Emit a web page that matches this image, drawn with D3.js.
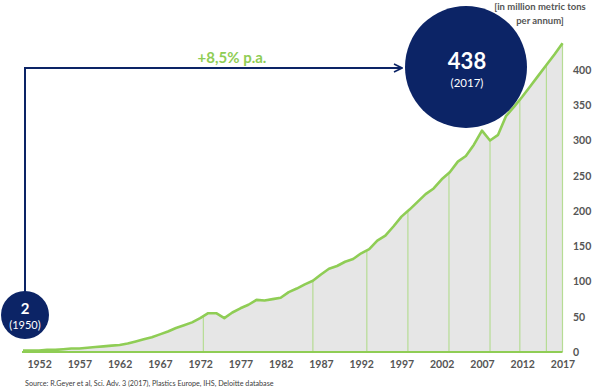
<!DOCTYPE html>
<html>
<head>
<meta charset="utf-8">
<script src="https://cdn.jsdelivr.net/npm/d3@7"></script>
<style>
  html, body { margin: 0; padding: 0; background: #fff; }
  svg { display: block; font-family: Lato, "Open Sans", sans-serif; }
</style>
</head>
<body>
<svg id="chart" width="601" height="391"></svg>
<script>
// ---- data ----
const years = d3.range(1950, 2018);
const production = [
  2, 2, 2, 3, 3, 4, 5, 5, 6, 7,            // 1950-1959
  8, 9, 10, 12, 15, 18, 21, 25, 29, 34,    // 1960-1969
  38, 42, 48, 55, 55, 48, 56, 62, 67, 74,  // 1970-1979
  73, 75, 77, 85, 90, 96, 101, 110, 118, 122, // 1980-1989
  128, 132, 140, 146, 158, 165, 178, 192, 202, 213, // 1990-1999
  224, 232, 245, 255, 270, 278, 294, 314, 300, 308, // 2000-2009
  335, 348, 362, 377, 392, 407, 422, 438   // 2010-2017
];
const xTickLabels = [1952, 1957, 1962, 1967, 1972, 1977, 1982, 1987, 1992, 1997, 2002, 2007, 2012, 2017];
const yTickLabels = [0, 50, 100, 150, 200, 250, 300, 350, 400];
const dividerYears = [1972.4, 1986, 1992.7, 1997.8, 2002.9, 2008, 2011.7, 2015, 2017];
const unitLines = ["[in million metric tons", "per annum]"];
const growthLabel = "+8,5% p.a.";
const startLabel = { value: "2", year: "(1950)" };
const endLabel = { value: "438", year: "(2017)" };
const sourceText = "Source: R.Geyer et al, Sci. Adv. 3 (2017), Plastics Europe, IHS, Deloitte database";

const data = years.map((yr, i) => ({ year: yr, value: production[i] }));

// ---- styles ----
const navy = "#0c2466";
const green = "#8fcd55";
const lightGreen = "#b6dc94";
const fillGrey = "#e6e6e6";
const textGrey = "#555555";

const svg = d3.select("#chart");
const x = d3.scaleLinear().domain([1950, 2017]).range([23, 562.5]);
const y = d3.scaleLinear().domain([0, 400]).range([352, 70]);

const interp = yr => {
  const i = Math.min(Math.floor(yr - 1950), production.length - 2);
  const t = yr - 1950 - i;
  return production[i] + (production[i + 1] - production[i]) * t;
};

// area
svg.append("path")
  .datum(data)
  .attr("fill", fillGrey)
  .attr("d", d3.area().x(d => x(d.year)).y0(y(0)).y1(d => y(d.value)));

// dividers
svg.append("g").selectAll("line")
  .data(dividerYears)
  .join("line")
  .attr("x1", d => x(d)).attr("x2", d => x(d))
  .attr("y1", y(0)).attr("y2", d => y(interp(d)))
  .attr("stroke", lightGreen).attr("stroke-width", 1.2);

// baseline
svg.append("line")
  .attr("x1", x(1950) - 1).attr("x2", x(2017))
  .attr("y1", y(0)).attr("y2", y(0))
  .attr("stroke", green).attr("stroke-width", 2.2);

// line
svg.append("path")
  .datum(data)
  .attr("fill", "none")
  .attr("stroke", green)
  .attr("stroke-width", 2.6)
  .attr("stroke-linejoin", "round")
  .attr("d", d3.line().x(d => x(d.year)).y(d => y(d.value)));

// x axis
const xAxis = svg.append("g")
  .attr("transform", `translate(0,${y(0)})`)
  .call(d3.axisBottom(x).tickValues(xTickLabels).tickFormat(d3.format("d")).tickSize(0).tickPadding(9));
xAxis.select(".domain").remove();
xAxis.selectAll("text")
  .attr("fill", textGrey)
  .style("font-family", "Lato, sans-serif")
  .style("font-size", "10.5px")
  .style("font-weight", "bold");

// y axis
const yAxis = svg.append("g")
  .attr("transform", `translate(${x(2017)},0)`)
  .call(d3.axisRight(y).tickValues(yTickLabels).tickSize(0).tickPadding(10.5));
yAxis.select(".domain").remove();
yAxis.selectAll("text")
  .attr("fill", textGrey)
  .style("font-family", "Lato, sans-serif")
  .style("font-size", "10.5px")
  .style("font-weight", "bold");

// unit label
svg.append("text")
  .attr("text-anchor", "middle")
  .attr("fill", textGrey)
  .style("font-size", "9.5px").style("font-weight", "bold")
  .selectAll("tspan").data(unitLines).join("tspan")
  .attr("x", 540).attr("y", (d, i) => 10 + i * 14)
  .text(d => d);

// arrow
svg.append("defs").append("marker")
  .attr("id", "arrowhead")
  .attr("viewBox", "0 0 10 10")
  .attr("refX", 9).attr("refY", 5)
  .attr("markerWidth", 5).attr("markerHeight", 5)
  .attr("markerUnits", "strokeWidth")
  .attr("orient", "auto")
  .append("path")
  .attr("d", "M1,1 L9,5 L1,9")
  .attr("fill", "none").attr("stroke", navy).attr("stroke-width", 1.6);

const arrowY = 68;
svg.append("path")
  .attr("d", `M${x(1950) + 2},292 L${x(1950) + 2},${arrowY} L402,${arrowY}`)
  .attr("fill", "none")
  .attr("stroke", navy)
  .attr("stroke-width", 2)
  .attr("marker-end", "url(#arrowhead)");

svg.append("text")
  .attr("x", 232).attr("y", 63)
  .attr("text-anchor", "middle")
  .attr("fill", green)
  .style("font-size", "15px").style("font-weight", "bold")
  .text(growthLabel);

// small circle
const smallC = { cx: 25, cy: 315, r: 24 };
svg.append("circle").attr("cx", smallC.cx).attr("cy", smallC.cy).attr("r", smallC.r).attr("fill", navy);
svg.append("text").attr("x", smallC.cx).attr("y", smallC.cy - 1)
  .attr("text-anchor", "middle").attr("fill", "#fff")
  .style("font-size", "15px").style("font-weight", "bold").text(startLabel.value);
svg.append("text").attr("x", smallC.cx).attr("y", smallC.cy + 14)
  .attr("text-anchor", "middle").attr("fill", "#fff")
  .style("font-size", "11px").text(startLabel.year);

// big circle
const bigC = { cx: 466, cy: 67, r: 61 };
svg.append("circle").attr("cx", bigC.cx).attr("cy", bigC.cy).attr("r", bigC.r).attr("fill", navy);
svg.append("text").attr("x", bigC.cx + 1).attr("y", bigC.cy + 2)
  .attr("text-anchor", "middle").attr("fill", "#fff")
  .style("font-size", "22px").style("font-weight", "bold").text(endLabel.value);
svg.append("text").attr("x", bigC.cx + 1).attr("y", bigC.cy + 20)
  .attr("text-anchor", "middle").attr("fill", "#fff")
  .style("font-size", "11.5px").text(endLabel.year);

// source
svg.append("text")
  .attr("x", 25).attr("y", 386)
  .attr("fill", "#404040")
  .style("font-size", "7.2px")
  .text(sourceText);
</script>
</body>
</html>
